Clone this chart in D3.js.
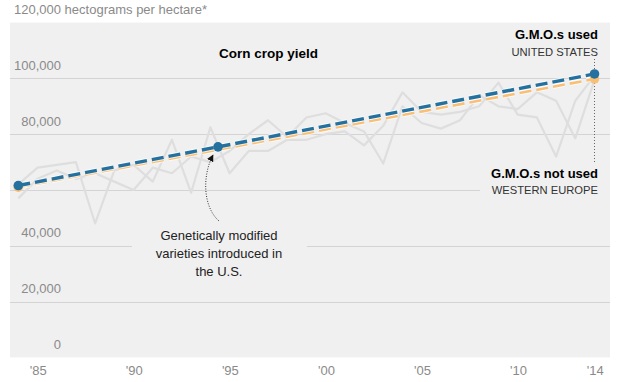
<!DOCTYPE html>
<html><head><meta charset="utf-8">
<script src="https://cdn.jsdelivr.net/npm/d3@7"></script>
<style>
body{margin:0;background:#fff}
svg{display:block}
text{font-family:"Liberation Sans",Arial,Helvetica,sans-serif}
</style>
</head><body>
<svg id="chart" width="634" height="382"></svg>
<script>
// ---- data ----
const years = [1984,1985,1986,1987,1988,1989,1990,1991,1992,1993,1994,1995,1996,1997,1998,1999,2000,2001,2002,2003,2004,2005,2006,2007,2008,2009,2010,2011,2012,2013,2014];
const usYield = [62000,68000,69000,70000,48000,67000,69000,63000,78000,59000,82500,66000,74000,74000,78000,78000,80000,81000,76000,83000,95000,88000,87000,88000,90000,98500,87000,86000,72000,92000,101000];
const euYield = [57000,64000,67000,64000,66000,63000,60000,68000,66000,72000,70000,74000,80000,85000,79000,86000,87500,84000,81000,69500,90000,84000,82000,85000,94000,90000,89000,95000,92000,78500,99500];
const trendYears = [1984, 2014];
const usTrend = [61600, 101600];
const euTrend = [61000, 99800];
const gmoIntroYear = 1994.4;
const yTicks = [0,20000,40000,60000,80000,100000,120000];
const yLabelledTicks = [0,20000,40000,80000,100000,120000];
const yUnit = " hectograms per hectare*";
const xTickYears = [1985,1990,1995,2000,2005,2010,2014];
const xTickLabels = ["'85","'90","'95","'00","'05","'10","'14"];
const title = "Corn crop yield";
const usLabel = ["G.M.O.s used","UNITED STATES"];
const euLabel = ["G.M.O.s not used","WESTERN EUROPE"];
const annotationLines = ["Genetically modified","varieties introduced in","the U.S."];

// ---- chart ----
const svg = d3.select("#chart");
const x = d3.scaleLinear().domain([1984,2014]).range([18.3,594.5]);
const y = d3.scaleLinear().domain([0,120000]).range([357.4,22.6]);
const BLUE = "#24719f", ORANGE = "#f9bf75", BG = "#f0f0f0";

svg.append("rect").attr("x",10).attr("y",y(120000)).attr("width",600)
  .attr("height",y(0)-y(120000)).attr("fill",BG);

// gridlines
svg.append("g").selectAll("line").data(yTicks.filter(d=>d>0 && d<120000)).join("line")
  .attr("x1",10).attr("x2",610).attr("y1",d=>Math.round(y(d))+0.5).attr("y2",d=>Math.round(y(d))+0.5)
  .attr("stroke","#d4d4d4").attr("stroke-width",1.2);

// label backgrounds that mask gridlines
svg.append("rect").attr("x",132).attr("y",224).attr("width",175).attr("height",58).attr("fill",BG);
svg.append("rect").attr("x",480).attr("y",163).attr("width",130).attr("height",35).attr("fill",BG);

// y tick labels
const yl = svg.append("g").attr("font-size",13).attr("fill","#8a8a8a");
yLabelledTicks.forEach(v=>{
  const s = d3.format(",")(v);
  if (v===120000){
    const t = yl.append("text").attr("y",y(v)-8.6).text(s);
    const w = t.node().getComputedTextLength();
    t.attr("x",61-w).text(s+yUnit);
  } else {
    yl.append("text").attr("x",61).attr("y",y(v)-8.6).attr("text-anchor","end").text(s);
  }
});

// x tick labels
svg.append("g").attr("font-size",13).attr("fill","#8a8a8a").selectAll("text")
  .data(xTickYears).join("text")
  .attr("x",d=>x(d)+0.8).attr("y",374.5).attr("text-anchor","middle")
  .text((d,i)=>xTickLabels[i]);

// gray actual yield lines
const line = d3.line().x((d,i)=>x(years[i])).y(d=>y(d));
[euYield, usYield].forEach(s=>{
  svg.append("path").attr("d",line(s)).attr("fill","none")
    .attr("stroke","#dedede").attr("stroke-width",2.2).attr("stroke-linejoin","round");
});

// trend lines
const tline = d3.line().x((d,i)=>x(trendYears[i])).y(d=>y(d));
function trend(vals,color,w){
  svg.append("path").attr("d",tline(vals)).attr("fill","none")
    .attr("stroke","#fff").attr("stroke-width",w+2).attr("stroke-dasharray","12,5").attr("stroke-opacity",0.7);
  svg.append("path").attr("d",tline(vals)).attr("fill","none")
    .attr("stroke",color).attr("stroke-width",w).attr("stroke-dasharray","12,5");
}
trend(euTrend, ORANGE, 2.6);
trend(usTrend, BLUE, 3.4);

// vertical dotted leader
svg.append("line").attr("x1",x(2014)).attr("x2",x(2014)).attr("y1",59).attr("y2",163)
  .attr("stroke","#666").attr("stroke-width",1).attr("stroke-dasharray","1,2");

// dots
const dots = [
  {yr:trendYears[0], v:euTrend[0], c:ORANGE},
  {yr:trendYears[1], v:euTrend[1], c:ORANGE},
  {yr:trendYears[0], v:usTrend[0], c:BLUE},
  {yr:trendYears[1], v:usTrend[1], c:BLUE},
  {yr:gmoIntroYear, v:usTrend[0]+(usTrend[1]-usTrend[0])*(gmoIntroYear-trendYears[0])/(trendYears[1]-trendYears[0]), c:BLUE}
];
svg.append("g").selectAll("circle").data(dots).join("circle")
  .attr("cx",d=>x(d.yr)).attr("cy",d=>y(d.v)).attr("r",4.8).attr("fill",d=>d.c);

// arrow
const defs = svg.append("defs");
defs.append("marker").attr("id","ah").attr("viewBox","0 0 10 10").attr("refX",9).attr("refY",5)
  .attr("markerWidth",7).attr("markerHeight",7).attr("markerUnits","userSpaceOnUse").attr("orient","auto")
  .append("path").attr("d","M0,0L10,5L0,10z").attr("fill","#111");
const p = d3.path();
p.moveTo(219,221); p.bezierCurveTo(203,207,202,176,213,155);
svg.append("path").attr("d",p.toString()).attr("fill","none").attr("stroke","#333")
  .attr("stroke-width",1).attr("stroke-dasharray","1,1.5").attr("marker-end","url(#ah)");

// title
svg.append("text").attr("x",219).attr("y",58).attr("font-size",13.5).attr("font-weight","bold")
  .attr("fill","#000").text(title);

// series labels
const rx = 598;
svg.append("text").attr("x",rx).attr("y",39).attr("text-anchor","end").attr("font-size",13)
  .attr("font-weight","bold").attr("fill","#000").text(usLabel[0]);
svg.append("text").attr("x",rx).attr("y",56).attr("text-anchor","end").attr("font-size",11.2)
  .attr("fill","#333").text(usLabel[1]);
svg.append("text").attr("x",rx).attr("y",178).attr("text-anchor","end").attr("font-size",13)
  .attr("font-weight","bold").attr("fill","#000").text(euLabel[0]);
svg.append("text").attr("x",rx).attr("y",194).attr("text-anchor","end").attr("font-size",11.2)
  .attr("fill","#333").text(euLabel[1]);

// annotation
svg.append("g").attr("font-size",13).attr("fill","#222").attr("text-anchor","middle")
  .selectAll("text").data(annotationLines).join("text")
  .attr("x",219).attr("y",(d,i)=>239.5+i*18.2).text(d=>d);
</script>
</body></html>
